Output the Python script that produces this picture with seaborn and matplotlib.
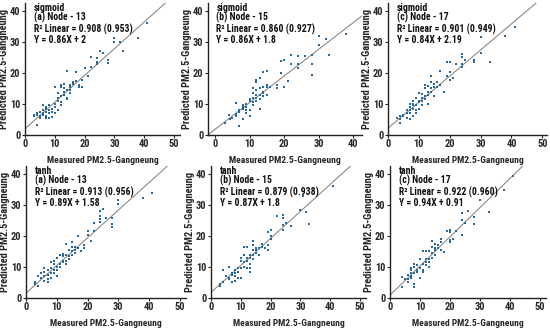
import matplotlib
matplotlib.use("Agg")
import matplotlib.pyplot as plt
import seaborn as sns
import pandas as pd

# measured / predicted values
x_sig13 = [3, 3, 4, 4, 4, 5, 5, 5, 6, 6, 6, 6, 7, 7, 7, 7, 7, 8, 8, 8, 8, 9, 9, 9, 10, 10, 10, 10,
           11, 11, 11, 11, 12, 12, 12, 12, 12, 13, 13, 13, 13, 14, 14, 14, 14, 15, 15, 15, 15,
           16, 16, 17, 17, 18, 18, 19, 19, 20, 21, 22, 22, 24, 24, 24, 25, 26, 28, 28, 30, 30,
           32, 33, 38, 41]
y_sig13 = [6.2, 6.6, 7, 3.2, 6.5, 6, 7.5, 5.5, 7, 8, 9.5, 6.5, 8.5, 7.5, 6, 5.5, 9, 8, 7, 5.5, 9.5,
           8.5, 7.5, 5.8, 10, 9, 15.3, 7, 11, 12, 13.5, 8, 12.5, 15.5, 16, 10.5, 9.5, 13, 14, 16.5,
           15, 12, 14.5, 20.5, 11.5, 15.5, 16, 14.5, 13.5, 16.5, 17, 17.5, 20.3, 16, 15.5, 15.3,
           17.8, 21.5, 19, 22, 25.2, 23, 24.7, 23.5, 27.2, 26.3, 23.3, 24, 31.3, 30, 30.1, 27,
           31.3, 35.9]

x_sig15 = [3, 4, 4.3, 5, 6, 6, 6, 7, 7, 7, 8, 8, 8, 8, 9, 9, 9, 9, 10, 10, 10, 10, 11, 11, 11, 11,
           11, 12, 12, 12, 12, 12, 12, 13, 13, 13, 13, 13, 14, 14, 14, 14, 14, 15, 15, 15, 15, 16,
           18, 18, 19, 19, 20, 20, 21, 22, 22, 24, 24, 24, 26, 28, 28, 28, 30, 30, 32, 33, 38]
y_sig15 = [4, 6.5, 5, 5.5, 6.8, 10.3, 6, 3, 8, 7.5, 9, 9.5, 8.5, 5, 8, 10, 7, 9, 6, 8, 11, 11.5,
           12, 13.5, 15, 10.5, 9.5, 13, 14.5, 17, 17.8, 12, 11, 13, 18.2, 11.5, 8.5, 15, 13.5, 14,
           15.5, 20.3, 12.5, 15.5, 16, 12.8, 20.5, 15.5, 15, 16, 20, 23.8, 24.3, 15.5, 17.3, 22.7,
           25.7, 25.4, 22.7, 21.6, 25.4, 25.9, 22.7, 19.2, 31.9, 28.9, 31, 25.6, 32.4]

x_sig17 = [41, 38, 30, 30, 33, 28, 28, 24, 24, 24, 24, 25, 22, 20, 19, 20, 20, 21, 19, 17, 18, 17,
           16, 16, 15, 15, 14, 14, 14, 14, 13, 13, 13, 13, 12, 12, 12, 12, 11, 11, 11, 10, 10, 10,
           10, 9, 9, 9, 8, 8, 8, 8, 8, 7, 7, 7, 7, 7, 6, 6, 6, 5, 5, 4, 4, 4, 3, 9, 15, 11]
y_sig17 = [34.8, 32, 31.7, 26.5, 23.6, 24, 23.5, 26, 25, 23, 22, 24, 23, 23.5, 23.6, 20.2, 17.7,
           18.3, 19, 20.5, 14, 16, 17, 15.5, 16.5, 15.5, 19, 17, 15, 14, 15.8, 14, 13, 10, 16, 15,
           12.5, 11.5, 13.2, 12, 11, 13.5, 11, 10.5, 8.5, 9.5, 8, 7, 11, 10, 9.5, 8.5, 6, 10, 9, 8,
           7, 5, 8, 7, 5.5, 6.5, 6, 6, 5, 3.8, 5.5, 12, 12.5, 9.5]

x_tanh13 = [41, 38, 30, 30, 28, 28, 28, 26, 25, 24, 24, 24, 24, 22, 22, 20, 20, 21, 19, 19, 17, 18,
            17, 16, 16, 15, 15, 15, 15, 14, 14, 14, 13, 13, 13, 13, 12, 12, 12, 11, 11, 11, 10, 10,
            10, 10, 9, 9, 9, 8, 8, 8, 8, 7, 7, 7, 7, 6, 6, 6, 6, 5, 5, 4, 4, 3, 3, 9, 12, 16]
y_tanh13 = [33.9, 32.2, 31.4, 30.3, 25.8, 23.7, 23, 25.8, 28.5, 28, 26.5, 25.5, 24.5, 24.2, 21.5,
            21.5, 20.3, 18.2, 17.2, 16, 20, 15, 16, 16.5, 15.5, 18, 16.5, 15, 14, 15.5, 13.5, 12.5,
            17.5, 14, 12, 11, 13.5, 12, 11.5, 14, 11, 10, 13, 10, 9, 7, 11, 9, 8, 11.5, 9.5, 8, 6.5,
            9, 7.5, 6, 5, 9.5, 8.5, 7, 5.5, 8, 6.5, 7, 4, 4.5, 5, 12, 14.2, 14.5]

x_tanh15 = [3, 3, 4, 4, 5, 6, 6, 6, 7, 7, 7, 8, 8, 8, 8, 9, 9, 9, 10, 10, 10, 10, 11, 11, 11, 11,
            12, 12, 12, 12, 13, 13, 13, 13, 13, 14, 14, 14, 14, 14, 15, 15, 15, 16, 16, 17, 17, 18,
            19, 19, 19, 20, 20, 20, 22, 24, 24, 24, 24, 25, 27, 30, 31, 32, 33, 41]
y_tanh15 = [4, 4.6, 5.3, 9, 7, 10.1, 6.5, 6, 7.5, 8, 5, 9, 8, 7, 5.5, 9.5, 8.5, 6.5, 9.5, 6.5, 12,
            13, 11.5, 16.5, 14, 10, 16.5, 13, 12, 9.5, 13, 14, 9.5, 8.5, 11, 14, 15.5, 17, 18.5,
            12.5, 15.5, 16, 14.5, 16.2, 14, 17.5, 16.5, 16, 21.3, 17, 15.4, 21.8, 19.9, 19, 26.3,
            26.6, 25.9, 23.4, 21.8, 24.1, 23.1, 28.2, 32.7, 27.7, 23.7, 36.2]

x_tanh17 = [4, 4, 5, 6, 6, 6, 7, 7, 7, 7, 7, 8, 8, 8, 8, 8, 9, 9, 9, 10, 10, 10, 11, 11, 11, 11,
            12, 12, 12, 12, 13, 13, 13, 13, 14, 14, 14, 14, 15, 15, 15, 15, 16, 16, 17, 17, 17, 18,
            19, 20, 20, 20, 20, 21, 22, 24, 24, 24, 25, 26, 28, 28, 30, 32, 33, 38, 41]
y_tanh17 = [3.5, 6.9, 6, 7.5, 5, 6, 8, 7, 6.5, 9, 9.5, 3.5, 4.6, 8, 10, 11, 10.5, 9, 8.5, 6.5, 9.5,
            12.5, 8.5, 11, 15, 9, 15.2, 12.5, 11.5, 10.5, 15, 12.5, 10, 11.5, 18.5, 16.5, 14.5, 13,
            15.5, 16, 14, 17.5, 17, 16, 19, 18, 15.5, 14.9, 21.5, 21.8, 21.3, 18.6, 18.1, 19.1,
            21.5, 27.3, 25.2, 20.2, 24.3, 28, 26.1, 23.7, 31.4, 34.6, 27.7, 34.8, 39.4]

func_names = ["sigmoid", "sigmoid", "sigmoid", "tanh", "tanh", "tanh"]
node_labels = ["(a) Node - 13", "(b) Node - 15", "(c) Node - 17",
               "(a) Node - 13", "(b) Node - 15", "(c) Node - 17"]
r2_values = ["0.908", "0.860", "0.901", "0.913", "0.879", "0.922"]
r_values = ["0.953", "0.927", "0.949", "0.956", "0.938", "0.960"]
slopes = [0.86, 0.86, 0.84, 0.89, 0.87, 0.94]
intercepts = [2, 1.8, 2.19, 1.58, 1.8, 0.91]
eq_labels = ["Y = 0.86X + 2", "Y = 0.86X + 1.8", "Y = 0.84X + 2.19",
             "Y = 0.89X + 1.58", "Y = 0.87X + 1.8", "Y = 0.94X + 0.91"]
xs = [x_sig13, x_sig15, x_sig17, x_tanh13, x_tanh15, x_tanh17]
ys = [y_sig13, y_sig15, y_sig17, y_tanh13, y_tanh15, y_tanh17]

sns.set_style("ticks")
plt.rcParams["font.family"] = ["Roboto Condensed", "Liberation Sans", "DejaVu Sans"]
plt.rcParams["font.weight"] = "bold"

W, H = 550, 329
# axes boxes in pixels: left, right, top, bottom
boxes = [(25, 180, 3, 135), (208, 362, 3, 135), (388, 547, 3, 135),
         (26, 186, 166, 298), (211, 366, 166, 298), (390, 546, 166, 298)]
xlims = [(0, 52), (-2, 42.5), (0, 51.5), (0, 52), (0, 52), (0, 52)]
xticks = [[0, 10, 20, 30, 40, 50], [0, 10, 20, 30, 40], [0, 10, 20, 30, 40, 50],
          [0, 10, 20, 30, 40, 50], [0, 10, 20, 30, 40, 50], [0, 10, 20, 30, 40, 50]]

fig = plt.figure(figsize=(5.5, 3.29), dpi=100)

for i in range(6):
    l, r, t, b = boxes[i]
    ax = fig.add_axes([l / W, 1 - b / H, (r - l) / W, (b - t) / H])
    df = pd.DataFrame({"measured": xs[i], "predicted": ys[i]})
    sns.scatterplot(data=df, x="measured", y="predicted", ax=ax, marker="s", s=4.5,
                    color="#29689a", linewidth=0, zorder=3)
    ax.axline((0, intercepts[i]), slope=slopes[i], color="#8a8a8a", lw=0.8, zorder=2)
    ax.set_xlim(*xlims[i])
    ax.set_ylim(0, 42.5)
    ax.set_xticks(xticks[i])
    ax.set_yticks([0, 10, 20, 30, 40])
    ax.tick_params(labelsize=7.5, length=2, width=0.8, pad=1.2)
    for lab in ax.get_xticklabels() + ax.get_yticklabels():
        lab.set_fontweight("bold")
    ax.set_xlabel("Measured PM2.5-Gangneung", fontsize=6.8, fontweight="bold", labelpad=5)
    ax.set_ylabel("Predicted PM2.5-Gangneung", fontsize=7.5, fontweight="bold", labelpad=1)
    for s in ["left", "bottom"]:
        ax.spines[s].set_linewidth(1.0)
        ax.spines[s].set_color("#222222")
    sns.despine(ax=ax)
    txt_lines = [func_names[i], node_labels[i],
                 "R² Linear = " + r2_values[i] + " (" + r_values[i] + ")", eq_labels[i]]
    for j, yy in enumerate([0.962, 0.89, 0.8, 0.72]):
        ax.text(0.055, yy, txt_lines[j], transform=ax.transAxes, fontsize=7,
                fontweight="bold", va="center", ha="left", color="#111111")

fig.savefig("out.png", dpi=100)
